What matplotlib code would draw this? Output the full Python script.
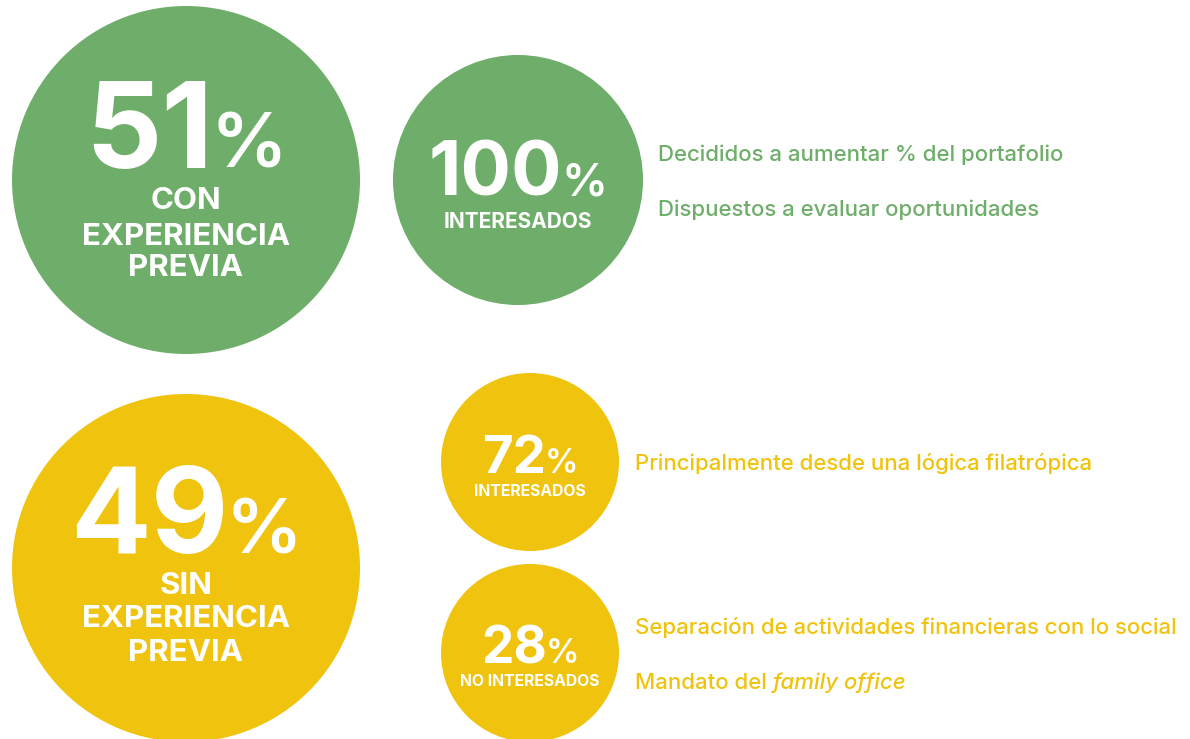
import matplotlib
matplotlib.use("Agg")
import matplotlib.pyplot as plt
from matplotlib.patches import Circle

GREEN = "#6fae6a"
YELLOW = "#f0c30f"

# data
group_share = [51, 49]
group_label = ["CON\nEXPERIENCIA\nPREVIA", "SIN\nEXPERIENCIA\nPREVIA"]
sub_value = [100, 72, 28]
sub_label = ["INTERESADOS", "INTERESADOS", "NO INTERESADOS"]
green_notes = ["Decididos a aumentar % del portafolio",
               "Dispuestos a evaluar oportunidades"]
yellow_notes = ["Principalmente desde una lógica filatrópica",
                "Separación de actividades financieras con lo social"]
mandate_plain = "Mandato del "
mandate_italic = "family office"

FONT = "Inter"
NOTE_SIZE = 16

fig = plt.figure(figsize=(11.9, 7.39), dpi=100)
ax = fig.add_axes([0, 0, 1, 1])
ax.set_xlim(0, 1190)
ax.set_ylim(739, 0)
ax.axis("off")
renderer = fig.canvas.get_renderer()


def width_of(t):
    return t.get_window_extent(renderer).width


def pct_number(x, y_base, value, size, pct_size):
    '''Number with a smaller % sign, centred on x, sitting on y_base'''
    t1 = ax.text(0, y_base, str(value), fontsize=size, color="white",
                 fontfamily=FONT, fontweight="bold", ha="left", va="baseline")
    t2 = ax.text(0, y_base, "%", fontsize=pct_size, color="white",
                 fontfamily=FONT, fontweight="semibold", ha="left", va="baseline")
    w1, w2 = width_of(t1), width_of(t2)
    gap = -size * 0.03
    start = x - (w1 + gap + w2) / 2
    t1.set_x(start)
    t2.set_x(start + w1 + gap)


def caption(x, y, s, size):
    ax.text(x, y, s, fontsize=size, color="white", fontfamily=FONT,
            fontweight="bold", ha="center", va="center")


# big circles
big = [(186, 180, GREEN, 168, [201, 237, 268]),
       (186, 568, YELLOW, 553, [586, 619, 653])]
for (cx, cy, col, base, rows), share, lab in zip(big, group_share, group_label):
    ax.add_patch(Circle((cx, cy), 174, color=col, lw=0))
    pct_number(cx, base, share, 86, 55)
    for yy, line in zip(rows, lab.split("\n")):
        caption(cx, yy, line, 22.5)

# smaller circles
small = [(518, 180, 125, GREEN, 195, 54, 33, 222, 15),
         (530, 462, 89, YELLOW, 473, 38, 24, 491, 11.3),
         (530, 653, 89, YELLOW, 663, 37, 24, 682, 11.3)]
for (cx, cy, r, col, base, s1, s2, ly, ls), val, lab in zip(small, sub_value, sub_label):
    ax.add_patch(Circle((cx, cy), r, color=col, lw=0))
    pct_number(cx, base, val, s1, s2)
    caption(cx, ly, lab, ls)

# notes on the right
for yy, s in zip([155, 210], green_notes):
    ax.text(658, yy, s, fontsize=NOTE_SIZE, color=GREEN, fontfamily=FONT,
            fontweight="medium", ha="left", va="center")
for yy, s in zip([463, 627], yellow_notes):
    ax.text(635, yy, s, fontsize=NOTE_SIZE, color=YELLOW, fontfamily=FONT,
            fontweight="medium", ha="left", va="center")
t = ax.text(635, 683, mandate_plain, fontsize=NOTE_SIZE, color=YELLOW,
            fontfamily=FONT, fontweight="medium", ha="left", va="center")
ax.text(635 + width_of(t), 683, mandate_italic, fontsize=NOTE_SIZE, color=YELLOW,
        fontfamily=FONT, fontweight="medium", fontstyle="italic",
        ha="left", va="center")

fig.savefig("out.png", dpi=100)
